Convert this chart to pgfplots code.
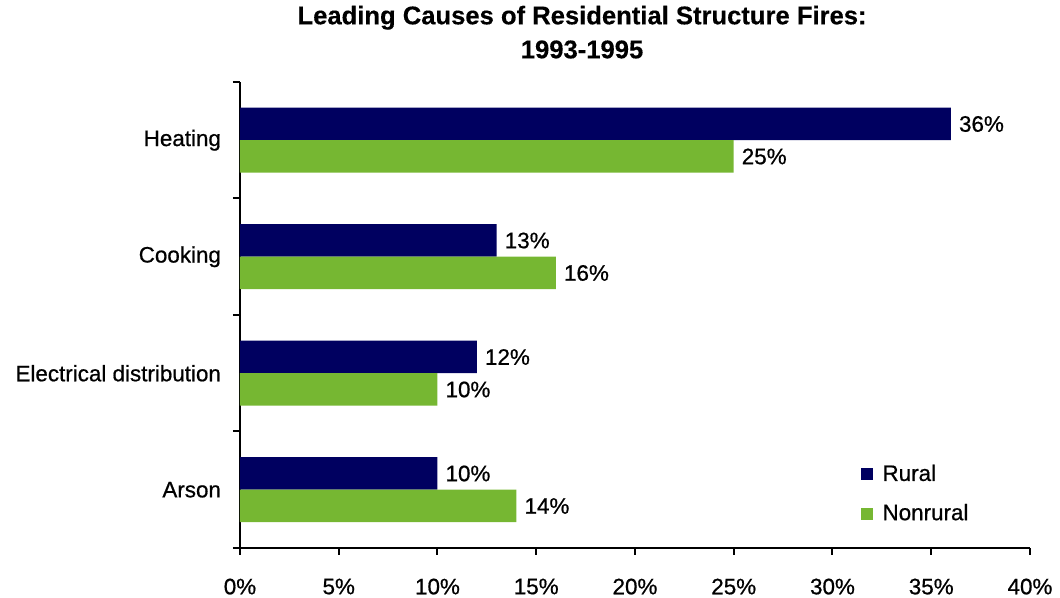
\documentclass[border=0pt]{standalone}
\usepackage{fontspec}
\setmainfont{Liberation Sans}[FakeBold=0.7, BoldFeatures={FakeBold=0.3}]
\usepackage{pgfplots}
\pgfplotsset{compat=1.18}
\definecolor{rural}{RGB}{0,0,96}
\definecolor{nonrural}{RGB}{118,183,50}
\begin{document}
\begin{tikzpicture}
\useasboundingbox (-120pt,-25pt) rectangle (410pt,274pt);
\begin{axis}[
  width=395pt, height=233pt, scale only axis,
  xmin=0, xmax=40, ymin=-0.5, ymax=3.5,
  axis x line=bottom, axis y line=left,
  axis line style={-, line width=1pt, black},
  tick style={line width=1pt, black},
  tick align=outside, major tick length=3.5pt,
  xtick={0,5,10,15,20,25,30,35,40},
  xticklabels={0\%,5\%,10\%,15\%,20\%,25\%,30\%,35\%,40\%},
  xticklabel style={yshift=-8.3pt},
  ytick={-0.5,0.5,1.5,2.5,3.5}, yticklabels={},
  extra y ticks={0,1,2,3},
  extra y tick labels={Arson,Electrical distribution,Cooking,Heating},
  extra y tick style={major tick length=0pt, yticklabel style={xshift=-6pt}},
  tick label style={font=\fontsize{11.2}{13}\selectfont},
  /pgf/number format/assume math mode=true,
  xbar, bar width=16.25pt,
  nodes near coords={\pgfmathprintnumber{\pgfplotspointmeta}\%},
  nodes near coords style={font=\fontsize{11.2}{13}\selectfont, black, xshift=0.5pt},
  point meta=x,
  clip=false,
  title={Leading Causes of Residential Structure Fires:\\1993-1995},
  title style={font=\bfseries\fontsize{12.8}{17}\selectfont, align=center, at={(0.433,1)}, anchor=south, inner sep=0pt, yshift=5.5pt},
  legend style={at={(0.785,0.116)}, anchor=west, draw=none, fill=none, inner sep=0pt,
    font=\fontsize{11.2}{13}\selectfont, row sep=6pt},
  legend cell align=left,
  legend image code/.code={\fill[#1] (0pt,-3pt) rectangle (6pt,3pt); \path (9pt,0pt);},
]
\addplot[fill=rural, draw=none, bar shift=8.125pt] coordinates {(10,0) (12,1) (13,2) (36,3)};
\addplot[fill=nonrural, draw=none, bar shift=-8.125pt] coordinates {(14,0) (10,1) (16,2) (25,3)};
\legend{Rural,Nonrural}
\end{axis}
\end{tikzpicture}
\end{document}
